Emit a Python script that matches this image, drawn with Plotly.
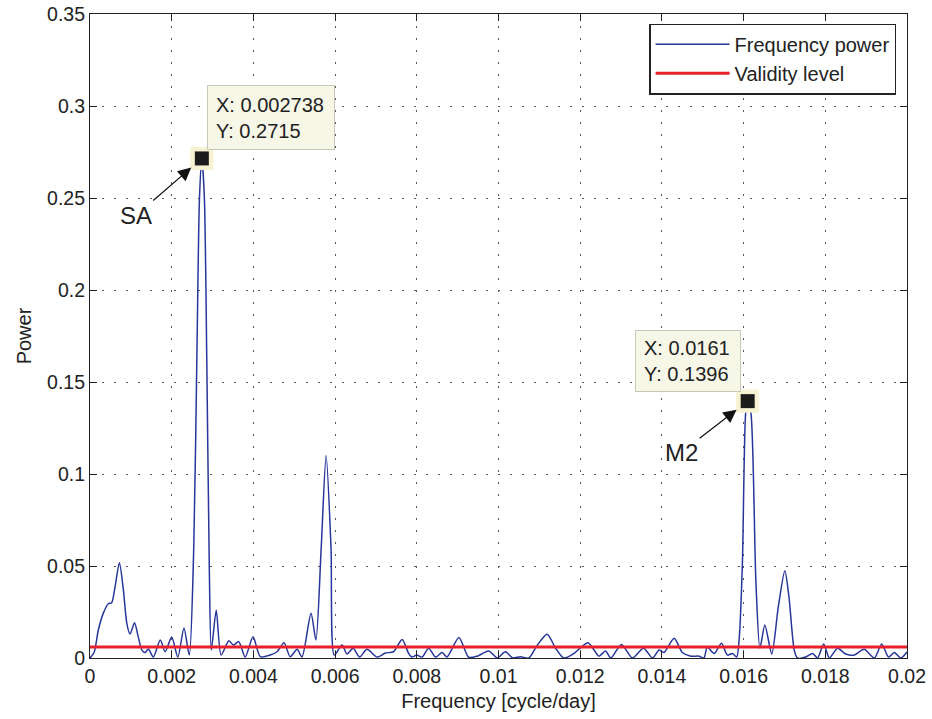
import plotly.graph_objects as go

freq = [0, 0.0001, 0.000204, 0.000326, 0.00045, 0.00053, 0.000613, 0.00072, 0.000817, 0.0009,
        0.00098, 0.00109, 0.00118, 0.00127, 0.00135, 0.00143, 0.00155, 0.00172, 0.00184, 0.002,
        0.00215, 0.0023, 0.00243, 0.00254, 0.00262, 0.00268, 0.002738, 0.0028, 0.00286, 0.00292,
        0.00297, 0.00309, 0.00321, 0.0034, 0.00351, 0.00364, 0.0038, 0.00399, 0.00417, 0.00441,
        0.00458, 0.00475, 0.0049, 0.00507, 0.00519, 0.00541, 0.00553, 0.00566, 0.00578, 0.0059,
        0.00598, 0.00617, 0.00629, 0.00644, 0.0066, 0.00678, 0.00703, 0.00723, 0.00743, 0.00764,
        0.0078, 0.00788, 0.008, 0.00813, 0.00829, 0.00846, 0.00862, 0.00874, 0.00903, 0.00927,
        0.00948, 0.00976, 0.00997, 0.01017, 0.01034, 0.01054, 0.01074, 0.01095, 0.01119, 0.0114,
        0.0116, 0.01185, 0.01201, 0.01219, 0.01234, 0.01246, 0.01262, 0.01275, 0.01301, 0.01328,
        0.01355, 0.01377, 0.01393, 0.01405, 0.0143, 0.0145, 0.01471, 0.01491, 0.01503, 0.01511,
        0.01528, 0.01546, 0.0156, 0.01573, 0.01583, 0.01589, 0.01597, 0.01605, 0.0161, 0.01618,
        0.0163, 0.0164, 0.01652, 0.01669, 0.01685, 0.01701, 0.01711, 0.01724, 0.01732, 0.01752,
        0.01769, 0.01781, 0.01796, 0.0181, 0.0183, 0.0185, 0.01871, 0.01895, 0.0192, 0.01938,
        0.01955, 0.01969, 0.01985, 0.02]
power = [0.0, 0.003, 0.0152, 0.0244, 0.0295, 0.030, 0.0387, 0.0518, 0.037, 0.019,
         0.013, 0.0192, 0.0116, 0.0043, 0.003, 0.0049, 0.0005, 0.0098, 0.0034, 0.0114,
         0.0005, 0.0163, 0.0016, 0.06, 0.17, 0.25, 0.2715, 0.25, 0.16, 0.05,
         0.0043, 0.026, 0.0016, 0.0094, 0.007, 0.0089, 0.0005, 0.0116, 0.0007, 0.0016,
         0.0034, 0.0083, 0.0007, 0.0047, 0.0005, 0.0243, 0.0098, 0.06, 0.110, 0.06,
         0.0016, 0.007, 0.0022, 0.0053, 0.0005, 0.0047, 0.0005, 0.0027, 0.0034, 0.0101,
         0.0025, 0.0005, 0.0016, 0.0005, 0.0053, 0.0005, 0.003, 0.0005, 0.0112, 0.0004,
         0.001, 0.0038, 0.0001, 0.0034, 0.0001, 0.0007, 0.0, 0.007, 0.0129, 0.0053,
         0.0, 0.0025, 0.0056, 0.0083, 0.0043, 0.001, 0.0038, 0.0, 0.0074, 0.0,
         0.0053, 0.0, 0.0043, 0.003, 0.0107, 0.003, 0.001, 0.001, 0.0, 0.006,
         0.0025, 0.008, 0.0016, 0.0025, 0.0005, 0.0098, 0.051, 0.133, 0.1396, 0.133,
         0.0424, 0.0053, 0.0179, 0.0022, 0.0279, 0.0474, 0.0333, 0.0043, 0.0, 0.0005,
         0.0025, 0.0, 0.0076, 0.0, 0.0053, 0.0022, 0.0016, 0.0047, 0.0, 0.0076,
         0.0005, 0.003, 0.0, 0.0033]

validity_level = 0.006
validity_x = [0, 0.02]

peak_x = [0.002738, 0.0161]
peak_y = [0.2715, 0.1396]
peak_names = ["SA", "M2"]

x_ticks = [0, 0.002, 0.004, 0.006, 0.008, 0.01, 0.012, 0.014, 0.016, 0.018, 0.02]
x_ticktext = ["0", "0.002", "0.004", "0.006", "0.008", "0.01", "0.012", "0.014", "0.016", "0.018", "0.02"]
y_ticks = [0, 0.05, 0.1, 0.15, 0.2, 0.25, 0.3, 0.35]
y_ticktext = ["0", "0.05", "0.1", "0.15", "0.2", "0.25", "0.3", "0.35"]

FONT = "Liberation Sans, Arial, Helvetica, sans-serif"
TXT = "#222222"

fig = go.Figure()
fig.add_trace(go.Scatter(x=freq, y=power, mode="lines", name="Frequency power",
                         line=dict(color="#27369a", width=1.5, shape="spline", smoothing=0.7)))
fig.add_trace(go.Scatter(x=validity_x, y=[validity_level] * len(validity_x), mode="lines",
                         name="Validity level", line=dict(color="#e8202a", width=3)))
fig.add_trace(go.Scatter(x=peak_x, y=peak_y, mode="markers", showlegend=False, hoverinfo="skip",
                         marker=dict(symbol="square", size=23, color="#f6f2d2", line=dict(width=0))))
fig.add_trace(go.Scatter(x=peak_x, y=peak_y, mode="markers", showlegend=False,
                         marker=dict(symbol="square", size=14, color="#1c1c1c", line=dict(width=0))))

# data tips
tip_pos = [(0.002868, 0.3114, 110, 47), (0.013333, 0.1781, 88, 44)]
for (px, py), (tx, ty, w, h) in zip(zip(peak_x, peak_y), tip_pos):
    fig.add_annotation(x=tx, y=ty, xref="x", yref="y", xanchor="left", yanchor="top",
                       text=f"X: {px:g}<br>Y: {py:g}", showarrow=False, align="left",
                       width=w, height=h, borderpad=8, bgcolor="#f7f7e8",
                       bordercolor="#c8c8b8", borderwidth=1,
                       font=dict(family=FONT, size=20, color=TXT))

# arrows with labels
arrow_off = [(-66, 57), (-66, 51)]
for px, py, name, (ax, ay) in zip(peak_x, peak_y, peak_names, arrow_off):
    fig.add_annotation(x=px, y=py, xref="x", yref="y", ax=ax, ay=ay, text=name,
                       showarrow=True, arrowhead=2, arrowsize=2.2, arrowwidth=1.2,
                       arrowcolor="#111111", standoff=14,
                       font=dict(family=FONT, size=24, color=TXT))

axis_common = dict(showline=True, linecolor="#222222", linewidth=1.2, mirror="ticks",
                   ticks="inside", ticklen=7, tickcolor="#222222", showgrid=True,
                   gridcolor="#555555", gridwidth=1, griddash="2px,10px", zeroline=False,
                   automargin=False,
                   tickfont=dict(family=FONT, size=19.5, color=TXT))

fig.update_xaxes(range=[0, 0.02], tickvals=x_ticks, ticktext=x_ticktext,
                 title=dict(text="Frequency [cycle/day]", font=dict(family=FONT, size=20, color=TXT),
                            standoff=8), **axis_common)
fig.update_yaxes(range=[0, 0.35], tickvals=y_ticks, ticktext=y_ticktext,
                 title=dict(text="Power", font=dict(family=FONT, size=20, color=TXT), standoff=10),
                 **axis_common)

fig.update_layout(
    width=932, height=719,
    margin=dict(l=90, r=25, t=14, b=61),
    paper_bgcolor="white", plot_bgcolor="white",
    font=dict(family=FONT, size=20, color=TXT),
    legend=dict(x=0.987, y=0.985, xanchor="right", yanchor="top",
                bgcolor="white", bordercolor="#222222", borderwidth=1.2,
                font=dict(family=FONT, size=20, color=TXT), tracegroupgap=0,
                itemwidth=74),
    showlegend=True,
)

fig.write_html("out.html")
